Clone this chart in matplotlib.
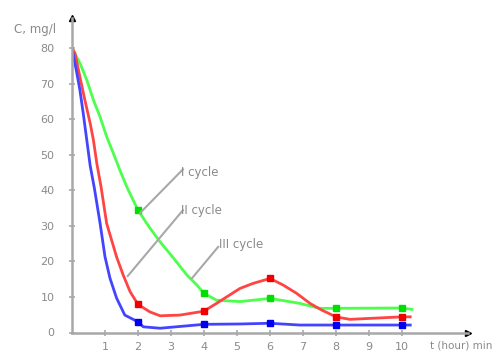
import matplotlib
matplotlib.use('Agg')
import matplotlib.pyplot as plt

# values (t in hours, C in mg/l)
t_green = [0, 0.24, 0.45, 0.65, 0.85, 1.05, 1.25, 1.45, 1.66, 2, 2.36, 2.67, 3.07, 3.48, 3.78, 4,
           4.38, 5.09, 6, 6.9, 7.5, 8, 10, 10.3]
c_green = [80, 75.8, 71.0, 65.4, 60.7, 55.1, 50.5, 45.7, 41.0, 34.4, 29.4, 25.5, 21.0, 16.2, 13.4, 11.0,
           9.1, 8.7, 9.6, 8.2, 6.8, 6.8, 6.9, 6.5]

t_red = [0, 0.09, 0.24, 0.39, 0.55, 0.65, 0.75, 0.88, 1.05, 1.35, 1.55, 1.76, 2, 2.36, 2.67, 3.27,
         4, 4.38, 5.09, 5.48, 6, 6.39, 6.81, 7.21, 7.57, 8, 8.42, 10, 10.25]
c_red = [80, 78.6, 71.9, 65.4, 58.9, 54.1, 47.7, 41.0, 30.7, 21.3, 16.2, 11.5, 7.9, 5.8, 4.7, 4.9,
         6.0, 8.2, 12.4, 13.8, 15.2, 13.4, 11.0, 8.2, 6.3, 4.4, 3.7, 4.4, 4.4]

t_blue = [0, 0.14, 0.24, 0.34, 0.45, 0.55, 0.68, 0.85, 1.0, 1.15, 1.35, 1.6, 2, 2.16, 2.67,
          4, 5.1, 6, 6.9, 8, 10, 10.25]
c_blue = [80, 73.3, 68.2, 61.7, 54.0, 47.0, 40.5, 30.8, 21.3, 15.3, 9.7, 4.9, 3.0, 1.6, 1.2,
          2.3, 2.4, 2.6, 2.1, 2.1, 2.1, 2.1]

# measured points (markers)
t_pts = [2, 4, 6, 8, 10]
green_pts = [34.4, 11.0, 9.6, 6.8, 6.9]
red_pts = [7.9, 6.0, 15.2, 4.4, 4.4]
blue_pts = [3.0, 2.3, 2.6, 2.1, 2.1]

labels = ['I cycle', 'II cycle', 'III cycle']

fig = plt.figure(figsize=(4.96, 3.52), dpi=100)
ax = fig.add_axes([72/496, 19.5/352, 396/496, 314.5/352])

gray = '#a8a8a8'
txt = '#8a8a8a'

ax.plot(t_green, c_green, color='#4dff4d', lw=2)
ax.plot(t_red, c_red, color='#ff4444', lw=2)
ax.plot(t_blue, c_blue, color='#4444ff', lw=2)
ax.plot(t_pts, green_pts, 's', color='#00dd00', ms=4)
ax.plot(t_pts, red_pts, 's', color='#ee0000', ms=4)
ax.plot(t_pts, blue_pts, 's', color='#0000ee', ms=4)

# leader lines + labels
ax.plot([2.06, 3.36], [33.6, 45.9], color=gray, lw=1.5)
ax.plot([1.69, 3.36], [15.9, 34.4], color=gray, lw=1.5)
ax.plot([3.63, 4.43], [15.2, 24.1], color=gray, lw=1.5)
ax.text(3.3, 44.9, labels[0], color=txt, fontsize=8.5, va='center', ha='left')
ax.text(3.3, 34.4, labels[1], color=txt, fontsize=8.5, va='center', ha='left')
ax.text(4.45, 24.9, labels[2], color=txt, fontsize=8.5, va='center', ha='left')

ax.set_xlim(0, 12)
ax.set_ylim(0, 88.5)
ax.set_xticks(range(1, 11))
ax.set_yticks(range(0, 81, 10))

for s in ['top', 'right']:
    ax.spines[s].set_visible(False)
for s in ['left', 'bottom']:
    ax.spines[s].set_color(gray)
    ax.spines[s].set_linewidth(1.8)

ax.tick_params(axis='both', direction='inout', length=5, width=1.2, color=gray,
               labelcolor=txt, labelsize=8)
ax.tick_params(axis='x', pad=4)
ax.tick_params(axis='y', pad=10)

# axis arrows
ax.plot(1, 0, '>', color='black', ms=4, transform=ax.transAxes, clip_on=False)
ax.plot(0, 1, '^', color='black', ms=4, transform=ax.transAxes, clip_on=False)

fig.text(14/496, 1 - 30/352, 'C, mg/l', color=txt, fontsize=8.5, va='center', ha='left')
fig.text(430/496, 1 - 346/352, 't (hour) min', color=txt, fontsize=7.5, va='center', ha='left')

fig.savefig('out.png', dpi=100)
